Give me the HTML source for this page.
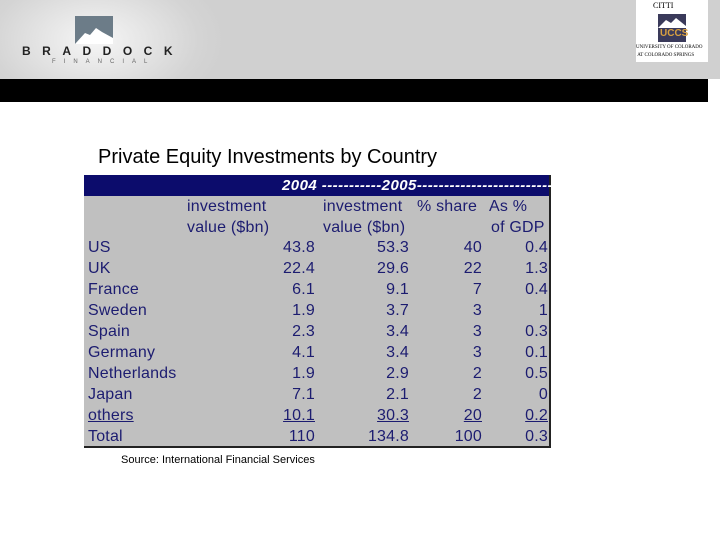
<!DOCTYPE html>
<html><head><meta charset="utf-8"><style>
body{margin:0;width:720px;height:540px;position:relative;overflow:hidden;background:#fff;font-family:"Liberation Sans",sans-serif}
.abs{position:absolute}
.t{position:absolute;font-size:16px;color:#1c1c70;line-height:20px;white-space:nowrap;letter-spacing:0.2px}
.r{text-align:right}
.u{text-decoration:underline}
</style></head><body>
<div class="abs" style="left:0;top:0;width:720px;height:79px;background:radial-gradient(ellipse 130px 80px at 95px 40px,#f6f6f6,#d4d4d4 80%,#d0d0d0)"></div>
<div class="abs" style="left:75px;top:16px;width:38px;height:28px;background:#6c7c88">
<svg width="38" height="28"><polygon points="0,28 10,17 15,19 21,12 27,16 38,22 38,28" fill="#fff"/></svg></div>
<div class="abs" style="left:22px;top:44px;font-size:12px;font-weight:bold;letter-spacing:11.5px;color:#222">BRADDOCK</div>
<div class="abs" style="left:52px;top:59px;font-size:6px;letter-spacing:8px;color:#666">FINANCIAL</div>
<div class="abs" style="left:636px;top:0;width:72px;height:62px;background:#fff">
<div style="position:absolute;left:17px;top:1px;font-size:8px;font-family:'Liberation Serif',serif">CITTI</div>
<div style="position:absolute;left:22px;top:14px;width:28px;height:28px;background:#3a3a5a">
<svg width="28" height="28"><polygon points="0,14 8,6 13,9 18,4 28,12 28,14" fill="#fff"/></svg>
<div style="position:absolute;left:2px;top:14px;font-size:10px;color:#d8a040;font-weight:bold">UCCS</div></div>
<div style="position:absolute;left:0;top:44px;font-size:5px;font-family:'Liberation Serif',serif;line-height:8px;white-space:nowrap">UNIVERSITY OF COLORADO<br>&nbsp;AT COLORADO SPRINGS</div>
</div>
<div class="abs" style="left:0;top:79px;width:708px;height:23px;background:#000"></div>
<div class="abs" style="left:98px;top:146px;font-size:20px;color:#000">Private Equity Investments by Country</div>
<div class="abs" style="left:84px;top:175px;width:465px;height:271px;background:#c0c0c0;border-right:2px solid #222;border-bottom:2px solid #222"></div>
<div class="abs" style="left:84px;top:175px;width:465px;height:21px;background:#0c0c6c"></div>
<div class="abs" style="left:282px;top:176px;font-size:15px;font-style:italic;font-weight:bold;color:#fff;line-height:20px;white-space:nowrap;letter-spacing:0.45px">2004 -----------2005-------------------------</div>
<div id="tbl"></div>
<div class="abs" style="left:121px;top:454px;font-size:11px;color:#000">Source: International Financial Services</div>
<script>
const headers1=["investment","investment","% share","As %"];
const headers2=["value ($bn)","value ($bn)","","of GDP"];
const countries=["US","UK","France","Sweden","Spain","Germany","Netherlands","Japan","others","Total"];
const inv2004=["43.8","22.4","6.1","1.9","2.3","4.1","1.9","7.1","10.1","110"];
const inv2005=["53.3","29.6","9.1","3.7","3.4","3.4","2.9","2.1","30.3","134.8"];
const share=["40","22","7","3","3","3","2","2","20","100"];
const gdp=["0.4","1.3","0.4","1","0.3","0.1","0.5","0","0.2","0.3"];
const tbl=document.getElementById('tbl');
function add(txt,x,y,right,name,u){const d=document.createElement('div');d.className='t'+(right?' r':'')+(u?' u':'');d.textContent=txt;


if(right){d.style.left=(x-100)+'px';d.style.width='100px';}else d.style.left=x+'px';d.style.top=(y-10)+'px';tbl.appendChild(d);}
const hx=[187,323,417,489];
headers1.forEach((h,i)=>add(h,hx[i],207,false,'column-header'));
headers2.forEach((h,i)=>{if(h)add(h,hx[i]+(i==3?2:0),228,false,'column-header-unit')});
const rx=[315,409,482,548];
countries.forEach((c,i)=>{const y=248+i*21.05;const u=c==='others';
add(c,88,y,false,'row-label-'+c.toLowerCase(),u);
add(inv2004[i],rx[0],y,true,'inv-2004-'+c.toLowerCase(),u);
add(inv2005[i],rx[1],y,true,'inv-2005-'+c.toLowerCase(),u);
add(share[i],rx[2],y,true,'share-'+c.toLowerCase(),u);
add(gdp[i],rx[3],y,true,'gdp-'+c.toLowerCase(),u);});
</script>
</body></html>
